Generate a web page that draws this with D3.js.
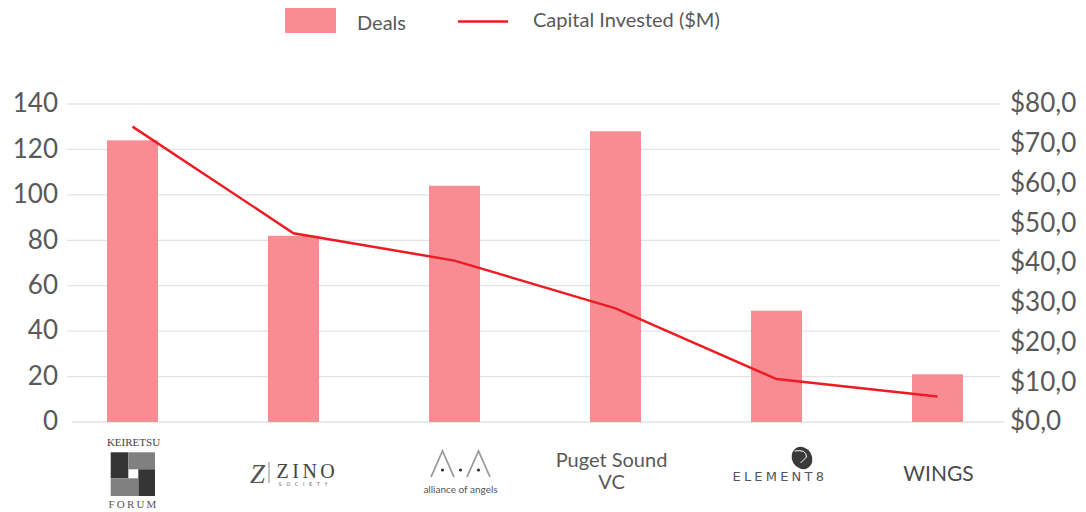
<!DOCTYPE html>
<html>
<head>
<meta charset="utf-8">
<script src="https://cdn.jsdelivr.net/npm/d3@7"></script>
<style>
  body { margin: 0; background: #fff; }
  svg { font-family: Lato, sans-serif; }
</style>
</head>
<body>
<div id="chart"></div>
<script>
// data
var categories = ["Keiretsu Forum", "Zino Society", "Alliance of Angels", "Puget Sound VC", "Element 8", "WINGS"];
var deals = [124, 82, 104, 128, 49, 21];
var capital = [74.3, 47.5, 40.6, 28.6, 10.8, 6.4];
var dealTicks = [0, 20, 40, 60, 80, 100, 120, 140];
var capitalTicks = [0, 10, 20, 30, 40, 50, 60, 70, 80];

var W = 1086, H = 512;
var barColor = "#f78d93", lineColor = "#ed1c24", textColor = "#595959", gridColor = "#e3e3e3";

var svg = d3.select("#chart").append("svg").attr("width", W).attr("height", H);

var x = d3.scaleBand().domain(categories).range([52, 1018]);
var yL = d3.scaleLinear().domain([0, 140]).range([422, 104]);
var yR = d3.scaleLinear().domain([0, 80]).range([422, 104]);
var barW = 51;
var cx = d => x(d) + x.bandwidth() / 2;

// gridlines
svg.append("g").selectAll("line")
  .data(dealTicks)
  .enter().append("line")
  .attr("x1", d => d == 0 ? 72 : 67)
  .attr("x2", d => d == 0 ? 1004 : 1000)
  .attr("y1", d => yL(d)).attr("y2", d => yL(d))
  .attr("stroke", gridColor).attr("stroke-width", 1.3);

// left axis
var axL = svg.append("g").attr("transform", "translate(60,0)")
  .call(d3.axisLeft(yL).tickValues(dealTicks).tickSize(0).tickPadding(2));
axL.select(".domain").remove();
axL.selectAll("text").style("font-family", "Lato").attr("font-size", 26).attr("fill", textColor).attr("dy", "0.3em");

// right axis
var fmt = d => "$" + d3.format(".1f")(d).replace(".", ",");
var axR = svg.append("g").attr("transform", "translate(1008,0)")
  .call(d3.axisRight(yR).tickValues(capitalTicks).tickSize(0).tickPadding(2).tickFormat(fmt));
axR.select(".domain").remove();
axR.selectAll("text").style("font-family", "Lato").attr("font-size", 26).attr("fill", textColor).attr("dy", "0.3em");

// bars
svg.append("g").selectAll("rect")
  .data(deals)
  .enter().append("rect")
  .attr("x", (d, i) => cx(categories[i]) - barW / 2)
  .attr("width", barW)
  .attr("y", d => yL(d))
  .attr("height", d => yL(0) - yL(d))
  .attr("fill", barColor);

// line
var line = d3.line()
  .x((d, i) => cx(categories[i]))
  .y(d => yR(d));
svg.append("path")
  .datum(capital)
  .attr("d", line)
  .attr("fill", "none")
  .attr("stroke", lineColor)
  .attr("stroke-width", 2.5);

// legend
var leg = svg.append("g");
leg.append("rect").attr("x", 285).attr("y", 8).attr("width", 51).attr("height", 25).attr("fill", barColor);
leg.append("text").attr("x", 357).attr("y", 30).attr("font-size", 20).attr("fill", textColor).text("Deals");
leg.append("line").attr("x1", 458).attr("x2", 508).attr("y1", 21.5).attr("y2", 21.5)
  .attr("stroke", lineColor).attr("stroke-width", 2.5);
leg.append("text").attr("x", 533).attr("y", 27).attr("font-size", 20).attr("fill", textColor).text("Capital Invested ($M)");

// category labels (logos drawn roughly)
var lab = svg.append("g");
var serif = "'Liberation Serif', 'DejaVu Serif', serif";

function keiretsu(g, c) {
  g.append("text").attr("x", c + 1).attr("y", 446).attr("text-anchor", "middle")
    .style("font-family", serif).attr("font-size", 11).attr("fill", "#444").text("KEIRETSU");
  var dark = "#353535", grey = "#808080";
  var blocks = [
    [-21.8, 452.3, 17.6, 26, dark],
    [-4.2, 452.3, 26.7, 17, grey],
    [5.8, 469.3, 16.7, 26.7, dark],
    [-21.8, 478.3, 27.6, 17.7, grey]
  ];
  blocks.forEach(b => g.append("rect").attr("x", c + b[0]).attr("y", b[1]).attr("width", b[2]).attr("height", b[3]).attr("fill", b[4]));
  g.append("text").attr("x", c + 1).attr("y", 508).attr("text-anchor", "middle")
    .style("font-family", serif).attr("font-size", 11).attr("letter-spacing", 2.2).attr("fill", "#555").text("FORUM");
}

function zino(g, c) {
  g.append("text").attr("x", c - 36).attr("y", 483).attr("text-anchor", "middle")
    .style("font-family", serif).attr("font-size", 27).attr("font-style", "italic").attr("fill", "#555").text("Z");
  g.append("line").attr("x1", c - 24.5).attr("x2", c - 24.5).attr("y1", 462).attr("y2", 483)
    .attr("stroke", "#888").attr("stroke-width", 1);
  g.append("text").attr("x", c - 17).attr("y", 478)
    .style("font-family", serif).attr("font-size", 20).attr("letter-spacing", 3.5).attr("fill", "#444").text("ZINO");
  g.append("text").attr("x", c - 15).attr("y", 486)
    .style("font-family", "'DejaVu Sans', sans-serif").attr("font-size", 5).attr("letter-spacing", 4.6).attr("fill", "#666").text("SOCIETY");
}

function alliance(g, c) {
  [c - 12, c + 24].forEach(function (mx) {
    g.append("path").attr("d", "M" + (mx - 11.5) + ",477 L" + mx + ",451 L" + (mx + 11.5) + ",477")
      .attr("fill", "none").attr("stroke", "#9a9a9a").attr("stroke-width", 1.8);
    g.append("circle").attr("cx", mx).attr("cy", 470).attr("r", 1.6).attr("fill", "#333");
  });
  g.append("circle").attr("cx", c + 6).attr("cy", 470).attr("r", 1.6).attr("fill", "#333");
  g.append("text").attr("x", c + 6).attr("y", 493).attr("text-anchor", "middle")
    .attr("font-size", 10).attr("fill", "#555").text("alliance of angels");
}

function puget(g, c) {
  g.append("text").attr("x", c - 4).attr("y", 467).attr("text-anchor", "middle")
    .attr("font-size", 20).attr("fill", textColor).text("Puget Sound");
  g.append("text").attr("x", c - 4).attr("y", 489).attr("text-anchor", "middle")
    .attr("font-size", 20).attr("fill", textColor).text("VC");
}

function element8(g, c) {
  g.append("ellipse").attr("cx", c + 25.5).attr("cy", 458).attr("rx", 10).attr("ry", 11.5)
    .attr("transform", "rotate(-30," + (c + 25.5) + ",458)").attr("fill", "#3a3a3a");
  g.append("path").attr("d", "M" + (c + 18) + ",451 Q" + (c + 30) + ",449 " + (c + 30) + ",457 L" + (c + 24) + ",463")
    .attr("fill", "none").attr("stroke", "#fff").attr("stroke-width", 1);
  g.append("text").attr("x", c - 44).attr("y", 481)
    .style("font-family", "'DejaVu Sans', sans-serif").attr("font-size", 13).attr("letter-spacing", 3.2).attr("fill", "#555").text("ELEMENT8");
}

function wings(g, c) {
  g.append("text").attr("x", c + 1).attr("y", 481).attr("text-anchor", "middle")
    .attr("font-size", 21).attr("fill", "#4a4a4a").text("WINGS");
}

var painters = [keiretsu, zino, alliance, puget, element8, wings];
categories.forEach(function (d, i) {
  var g = lab.append("g").attr("class", "cat-label").attr("data-name", d);
  painters[i](g, cx(d));
});
</script>
</body>
</html>
